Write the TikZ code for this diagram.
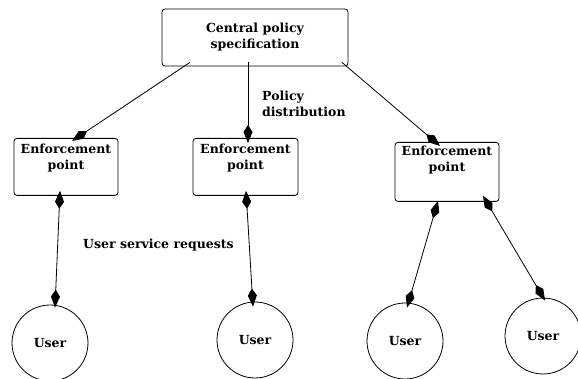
\documentclass[tikz,border=0pt]{standalone}
\usepackage{fontspec}
\setmainfont{DejaVu Serif}
\usetikzlibrary{arrows.meta,calc}
\begin{document}
\begin{tikzpicture}[x=1pt,y=-1pt,
  every node/.style={font=\fontsize{12.5}{16}\selectfont\bfseries},
  boxnode/.style={draw,thick,rounded corners=3pt,align=center,inner sep=0pt},
  usernode/.style={draw,thick,circle,minimum size=76pt,inner sep=0pt},
  lbl/.style={align=left,inner sep=0pt},
  tipk/.style={-{Kite[length=18pt,width=9pt,inset=7pt]}},
  tipkk/.style={{Kite[length=18pt,width=9pt,inset=7pt]}-{Kite[length=18pt,width=9pt,inset=7pt]}},
  conn/.style={thick}]
\useasboundingbox (0,0) rectangle (578,379);
\node[boxnode,minimum width=186pt,minimum height=57pt] (c) at (255,37.5) {Central policy\\specification};
\node[boxnode,minimum width=104pt,minimum height=57pt,anchor=north] (e1) at (66,138) {\rule{0pt}{15pt}Enforcement\\point\\[10pt]};
\node[boxnode,minimum width=105pt,minimum height=57pt,anchor=north] (e2) at (245.5,138) {\rule{0pt}{15pt}Enforcement\\point\\[10pt]};
\node[boxnode,minimum width=104pt,minimum height=57pt,anchor=north] (e3) at (447,142) {\rule{0pt}{13pt}Enforcement\\point\\[14pt]};
\node[usernode] (u1) at (50,343) {User};
\node[usernode] (u2) at (255,340) {User};
\node[usernode] (u3) at (405,341) {User};
\node[usernode] (u4) at (543,336) {User};
\node[lbl,anchor=north west] (pd) at (262,91) {Policy\\distribution};
\node[lbl,anchor=west] (us) at (83,245) {User service requests};
\draw[conn,tipk] ([xshift=-65pt,yshift=4pt]c.south) -- ([xshift=6pt,yshift=-3pt]e1.north);
\draw[conn,tipk] ([xshift=-7pt,yshift=4pt]c.south) -- ([xshift=2.5pt,yshift=-5pt]e2.north);
\draw[conn,tipk] ([xshift=87pt,yshift=4pt]c.south) -- ([xshift=-7pt,yshift=-4pt]e3.north);
\draw[conn,tipkk] ([xshift=-6pt,yshift=5pt]e1.south) -- ([xshift=5pt,yshift=-3pt]u1.north);
\draw[conn,tipkk] ([xshift=0.5pt,yshift=5pt]e2.south) -- ([xshift=-2pt,yshift=-5pt]u2.north);
\draw[conn,tipkk] ([xshift=-9pt,yshift=1pt]e3.south) -- ([xshift=2pt,yshift=-5pt]u3.north);
\draw[conn,tipkk] ([xshift=36pt,yshift=6pt]e3.south) -- ([xshift=2pt,yshift=-3pt]u4.north);
\end{tikzpicture}
\end{document}
